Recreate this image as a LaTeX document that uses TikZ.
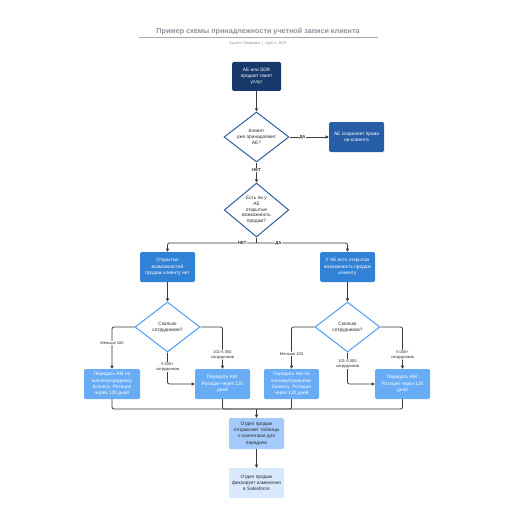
\documentclass[tikz,border=0pt]{standalone}
\usepackage{fontspec}
\setmainfont{Liberation Sans}
\usetikzlibrary{shapes.geometric,arrows.meta,calc}
\definecolor{navy}{HTML}{17386B}
\definecolor{mblue}{HTML}{285EA8}
\definecolor{dblue}{HTML}{2D5DA1}
\definecolor{oblue}{HTML}{3182D6}
\definecolor{lblue}{HTML}{4C9EF5}
\definecolor{pblue}{HTML}{68ACF6}
\definecolor{fblue}{HTML}{A4C9FB}
\definecolor{gblue}{HTML}{D8E8FD}
\definecolor{linec}{HTML}{3A3A3A}
\definecolor{titlec}{HTML}{8C919C}
\definecolor{darktext}{HTML}{2A2A2A}
\begin{document}
\begin{tikzpicture}[x=1pt,y=-1pt,
  box/.style={rectangle, rounded corners=1.5pt, minimum width=55pt, minimum height=30pt,
    inner sep=1pt, align=center, text=white, font=\fontsize{4.8}{6.3}\selectfont},
  dia/.style={diamond, draw, line width=1pt, fill=white, minimum width=65pt, minimum height=50pt,
    inner sep=0pt, aspect=1.3, align=center, text=darktext, font=\fontsize{4.8}{6.3}\selectfont},
  conn/.style={draw=linec, line width=0.8pt, rounded corners=2pt},
  arr/.style={conn, -{Triangle[length=3.2pt,width=3.2pt]}},
  lbl/.style={fill=white, inner sep=0.6pt, align=center, text=darktext, font=\fontsize{4}{5}\selectfont},
  ynlbl/.style={lbl, font=\fontsize{4.3}{5}\selectfont\bfseries}
]
\useasboundingbox (0,0) rectangle (516,516);

% title
\node[font=\fontsize{7.2}{8}\selectfont\bfseries, text=titlec] (title) at (258,31.5) {Пример схемы принадлежности учетной записи клиента};
\coordinate (ul) at (139,37.5);
\coordinate (ur) at (378,37.5);
\draw[draw=titlec!80, line width=0.9pt] (ul) -- (ur);
\node[font=\fontsize{3.8}{4.5}\selectfont, text=titlec] (sub) at (258,43.5) {System Templates \ | \ April 4, 2025};

% nodes
\node[box, fill=navy, minimum width=49pt, minimum height=29pt] (b1) at (256.5,76.5) {AE или SDR\\продает пакет\\услуг};
\node[dia, draw=dblue] (d1) at (256.5,137) {Клиент\\уже принадлежит\\AE?};
\node[box, fill=mblue] (b2) at (356.5,137) {AE сохраняет права\\на клиента};
\node[dia, draw=dblue, minimum width=62pt, minimum height=54pt, font=\fontsize{4.8}{5.8}\selectfont] (d2) at (256.5,210) {Есть ли у\\AE\\открытые\\возможность\\продаж?};
\node[box, fill=oblue] (b3) at (167.5,267) {Открытых\\возможностей\\продаж клиенту нет};
\node[box, fill=oblue] (b4) at (347.5,267) {У AE есть открытая\\возможность продаж\\клиенту};
\node[dia, draw=lblue] (d3) at (167.5,327) {Сколько\\сотрудников?};
\node[dia, draw=lblue] (d4) at (347.5,327) {Сколько\\сотрудников?};
\node[box, fill=pblue, minimum width=56pt] (ba) at (112,384) {Передать AM по\\малому/среднему\\бизнесу. Ротация\\через 120 дней};
\node[box, fill=pblue] (bb) at (222.5,384) {Передать AM.\\Ротация через 120\\дней};
\node[box, fill=pblue] (bc) at (291.5,384) {Передать AM по\\малому/среднему\\бизнесу. Ротация\\через 120 дней};
\node[box, fill=pblue] (bd) at (402.5,384) {Передать AM.\\Ротация через 120\\дней};
\node[box, fill=fblue, minimum height=31pt, text=darktext] (f1) at (256.5,433.5) {Отдел продаж\\отправляет таблицы\\с клиентами для\\передачи};
\node[box, fill=gblue, text=darktext] (f2) at (256.5,483) {Отдел продаж\\фиксирует изменения\\в Salesforce};

% connectors
\draw[arr] (b1) -- (d1);
\draw[arr] (d1) -- node[ynlbl, pos=0.33] (lda1) {ДА} (b2);
\draw[arr] (d1) -- node[ynlbl, pos=0.38] (lnet1) {НЕТ} (d2);
\coordinate (j2) at (256.5,243);
\draw[conn] (d2.south) -- (j2);
\draw[arr] (j2) -| node[ynlbl, pos=0.08] (lnet2) {НЕТ} (b3);
\draw[arr] (j2) -| node[ynlbl, pos=0.12] (lda2) {ДА} (b4);
\draw[arr] (b3) -- (d3);
\draw[arr] (b4) -- (d4);

\draw[arr] (d3.west) -| node[lbl, pos=0.69] (l31) {Меньше 100} (ba);
\draw[arr] (d3.south) |- node[lbl, pos=0.23] (l32) {5 000+\\сотрудников} (bb.west);
\draw[arr] (d3.east) -| node[lbl, pos=0.83] (l33) {101-5 000\\сотрудников} (bb);

\draw[arr] (d4.west) -| node[lbl, pos=0.82] (l41) {Меньше 100} (bc);
\draw[arr] (d4.south) |- node[lbl, pos=0.18] (l42) {101-5 000\\сотрудников} (bd.west);
\draw[arr] (d4.east) -| node[lbl, pos=0.83] (l43) {5 000+\\сотрудников} (bd);

\coordinate (m) at (256.5,409);
\draw[conn] (ba.south) |- (m);
\draw[conn] (bb.south) |- (m);
\draw[conn] (bc.south) |- (m);
\draw[conn] (bd.south) |- (m);
\draw[arr] (m) -- (f1);
\draw[arr] (f1) -- (f2);
\end{tikzpicture}
\end{document}
